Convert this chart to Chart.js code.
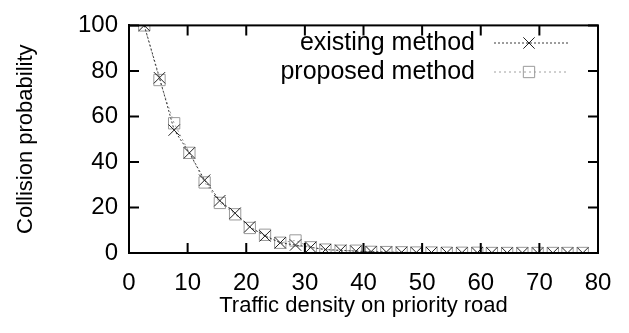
<!DOCTYPE html>
<html>
<head>
<meta charset="utf-8">
<script src="https://cdn.jsdelivr.net/npm/chart.js@4/dist/chart.umd.min.js"></script>
<style>
    html, body { margin: 0; padding: 0; background: #fff; }
    #wrap { width: 629px; height: 333px; }
</style>
</head>
<body>
<div id="wrap"><canvas id="chart"></canvas></div>
<script>
// Traffic density samples (x axis)
const density = [2.6, 5.2, 7.7, 10.3, 12.9, 15.5, 18.1, 20.6, 23.2, 25.8,
    28.4, 31.0, 33.5, 36.1, 38.7, 41.3, 43.9, 46.5, 49.0, 51.6,
    54.2, 56.8, 59.4, 61.9, 64.5, 67.1, 69.7, 72.3, 74.8, 77.4];
const existingMethod = [100, 77, 54, 44, 32, 23, 17.5, 11.5, 7.5, 4.5,
    3.5, 2.5, 1.5, 1.2, 0.8, 0.6, 0.4, 0.3, 0.2, 0.2,
    0.1, 0.1, 0.1, 0.1, 0, 0, 0, 0, 0, 0];
const proposedMethod = [100, 76, 57, 44, 31, 22, 17, 11, 8, 4.5,
    5.5, 2.5, 1.5, 1, 1, 0.5, 0.4, 0.3, 0.2, 0.2,
    0.1, 0.1, 0.1, 0, 0, 0, 0, 0, 0, 0];
const xTicks = [0, 10, 20, 30, 40, 50, 60, 70, 80];
const yTicks = [0, 20, 40, 60, 80, 100];

const FONT = "'Liberation Sans', Arial, Helvetica, sans-serif";

const toPoints = (ys) => density.map((x, i) => ({ x: x, y: ys[i] }));

// gnuplot-like frame: full box + inward ticks on all four sides
const framePlugin = {
    id: 'frame',
    afterDatasetsDraw(chart) {
        const { ctx, chartArea: a, scales } = chart;
        const len = 10;
        ctx.save();
        ctx.strokeStyle = '#000';
        ctx.lineWidth = 2;
        ctx.strokeRect(a.left, a.top, a.right - a.left, a.bottom - a.top);
        ctx.beginPath();
        xTicks.forEach(v => {
            const px = scales.x.getPixelForValue(v);
            ctx.moveTo(px, a.bottom); ctx.lineTo(px, a.bottom - len);
            ctx.moveTo(px, a.top); ctx.lineTo(px, a.top + len);
        });
        yTicks.forEach(v => {
            const py = scales.y.getPixelForValue(v);
            ctx.moveTo(a.left, py); ctx.lineTo(a.left + len, py);
            ctx.moveTo(a.right, py); ctx.lineTo(a.right - len, py);
        });
        ctx.stroke();
        ctx.restore();
    }
};

// Legend inside the plot, text right aligned with the sample to its right
const insideLegend = {
    id: 'insideLegend',
    afterDraw(chart, args, opts) {
        const { ctx } = chart;
        ctx.save();
        ctx.font = opts.font;
        ctx.textAlign = 'right';
        ctx.textBaseline = 'middle';
        chart.data.datasets.forEach((ds, i) => {
            const y = opts.top + i * opts.rowHeight;
            ctx.fillStyle = '#000';
            ctx.fillText(ds.label, opts.textRight, y);
            ctx.strokeStyle = ds.borderColor;
            ctx.lineWidth = ds.borderWidth;
            ctx.setLineDash(ds.borderDash);
            ctx.beginPath();
            ctx.moveTo(opts.lineStart, y);
            ctx.lineTo(opts.lineEnd, y);
            ctx.stroke();
            ctx.setLineDash([]);
            ctx.fillStyle = 'rgba(0,0,0,0)';
            ctx.strokeStyle = ds.pointBorderColor;
            Chart.helpers.drawPoint(ctx, {
                pointStyle: ds.pointStyle,
                radius: ds.pointRadius,
                borderWidth: ds.pointBorderWidth,
                rotation: 0
            }, opts.markerX, y);
        });
        ctx.restore();
    }
};

const ctx = document.getElementById('chart').getContext('2d');
new Chart(ctx, {
    type: 'line',
    data: {
        datasets: [
            {
                label: 'existing method',
                data: toPoints(existingMethod),
                borderColor: '#3a3a3a',
                borderWidth: 1,
                borderDash: [2, 2],
                pointStyle: 'crossRot',
                pointRadius: 8,
                pointBorderWidth: 1,
                pointBorderColor: '#222',
                pointBackgroundColor: 'transparent',
                fill: false,
                tension: 0
            },
            {
                label: 'proposed method',
                data: toPoints(proposedMethod),
                borderColor: '#a0a0a0',
                borderWidth: 1,
                borderDash: [2, 3],
                pointStyle: 'rect',
                pointRadius: 8,
                pointBorderWidth: 1,
                pointBorderColor: '#9a9a9a',
                pointBackgroundColor: 'transparent',
                fill: false,
                tension: 0
            }
        ]
    },
    options: {
        responsive: true,
        maintainAspectRatio: false,
        animation: false,
        events: [],
        layout: { padding: { left: 0, right: 31, top: 20, bottom: 0 } },
        plugins: {
            legend: { display: false },
            tooltip: { enabled: false },
            insideLegend: {
                font: `25px ${FONT}`,
                top: 43,
                rowHeight: 29,
                textRight: 475,
                lineStart: 494,
                lineEnd: 568,
                markerX: 529
            }
        },
        scales: {
            x: {
                type: 'linear',
                min: 0,
                max: 80,
                afterBuildTicks: (s) => { s.ticks = xTicks.map(v => ({ value: v })); },
                afterFit: (s) => { s.height = 80; },
                grid: { display: false, drawTicks: false },
                border: { display: true, color: '#000', width: 2 },
                ticks: { color: '#000', padding: 16, font: { family: FONT, size: 24 }, maxRotation: 0 },
                title: {
                    display: true,
                    text: 'Traffic density on priority road',
                    color: '#000',
                    font: { family: FONT, size: 22 },
                    padding: { top: 0, bottom: 14 }
                }
            },
            y: {
                type: 'linear',
                min: 0,
                max: 100,
                afterBuildTicks: (s) => { s.ticks = yTicks.map(v => ({ value: v })); },
                afterFit: (s) => { s.width = 129; },
                grid: { display: false, drawTicks: false },
                border: { display: true, color: '#000', width: 2 },
                ticks: { color: '#000', padding: 11, font: { family: FONT, size: 24 } },
                title: {
                    display: true,
                    text: 'Collision probability',
                    color: '#000',
                    font: { family: FONT, size: 22 },
                    padding: { top: 13, bottom: 0 }
                }
            }
        }
    },
    plugins: [framePlugin, insideLegend]
});
</script>
</body>
</html>
